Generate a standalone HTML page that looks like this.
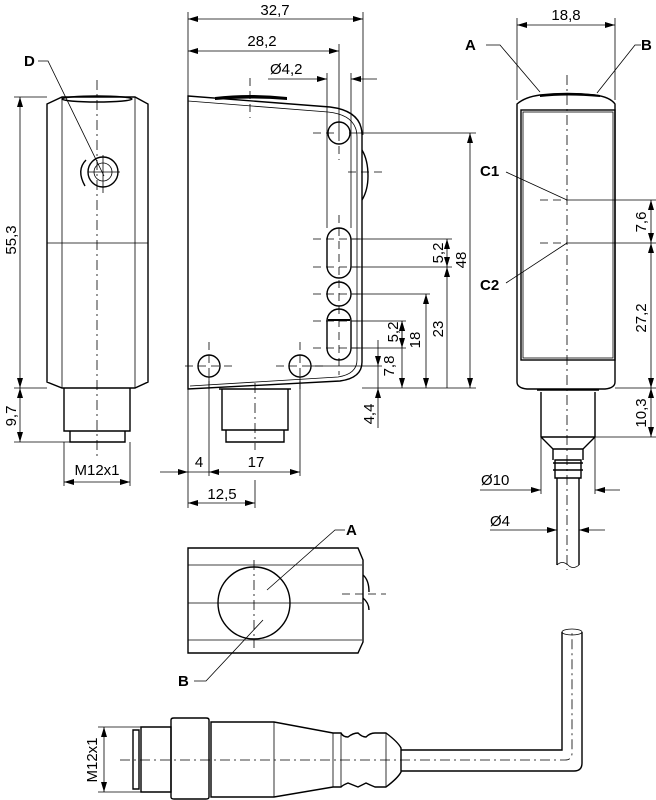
<!DOCTYPE html>
<html><head><meta charset="utf-8"><style>
html,body{margin:0;padding:0;background:#fff}
svg{display:block}
text{font-family:"Liberation Sans",sans-serif;font-size:15px;fill:#000}
.b{font-weight:bold}
.o{fill:none;stroke:#000;stroke-width:1.4}
.t{fill:none;stroke:#000;stroke-width:0.8}
.c{fill:none;stroke:#000;stroke-width:0.8;stroke-dasharray:10 4 2 4}
.d{fill:none;stroke:#000;stroke-width:0.8;stroke-dasharray:8 5}
</style></head><body>
<svg width="656" height="800" viewBox="0 0 656 800" xmlns="http://www.w3.org/2000/svg">
<defs>
<marker id="a" viewBox="0 0 10 6" refX="10" refY="3" markerWidth="10" markerHeight="6" orient="auto-start-reverse" markerUnits="userSpaceOnUse"><path d="M0,0 L10,3 L0,6z" fill="#000"/></marker>
</defs>

<!-- LEFT VIEW -->
<path class="o" d="M47,104 L62,97 L135,97 L148,104 L148,382 L135,388 L62,388 L47,382 Z"/>
<line class="t" x1="62" y1="97" x2="62" y2="388"/><line class="t" x1="135" y1="97" x2="135" y2="388"/>
<line class="t" x1="47" y1="243" x2="148" y2="243"/>
<ellipse class="o" cx="97" cy="99" rx="35" ry="3"/>
<path class="o" d="M64,388 V431 H130 V388 M70,431 V442 H125 V431"/>
<line class="c" x1="97" y1="80" x2="97" y2="460"/>
<circle class="o" cx="103" cy="172" r="15" stroke-width="2"/><circle class="t" cx="103" cy="172" r="9"/>
<line class="t" x1="103" y1="155" x2="103" y2="193"/><line class="t" x1="88" y1="172" x2="120" y2="172"/>
<path class="o" d="M86,160 Q76,170 85,186"/>
<text class="b" x="24" y="66">D</text>
<polyline class="t" points="38,61 48,61 104,176"/>
<line class="t" x1="14" y1="97" x2="47" y2="97"/><line class="t" x1="14" y1="388" x2="47" y2="388"/><line class="t" x1="14" y1="442" x2="70" y2="442"/>
<line class="t" x1="20" y1="97" x2="20" y2="388" marker-start="url(#a)" marker-end="url(#a)"/>
<line class="t" x1="20" y1="388" x2="20" y2="442" marker-start="url(#a)" marker-end="url(#a)"/>
<text transform="translate(16,240) rotate(-90)" text-anchor="middle">55,3</text>
<text transform="translate(16,416) rotate(-90)" text-anchor="middle">9,7</text>
<line class="t" x1="64" y1="442" x2="64" y2="486"/><line class="t" x1="130" y1="442" x2="130" y2="486"/>
<line class="t" x1="64" y1="482" x2="130" y2="482" marker-start="url(#a)" marker-end="url(#a)"/>
<text x="97" y="475" text-anchor="middle">M12x1</text>

<!-- MIDDLE VIEW -->
<path d="M215,97 Q250,93 287,97 L287,100 Q250,97 215,100Z" fill="#000"/>
<path class="o" d="M188,96 L330,107 Q362,111 362,135 L362,362 Q362,378 340,381 L188,389 Z"/>
<path class="t" d="M188,101 L328,112 Q357,115 357,137 L357,360 Q357,374 338,377 L190,386"/>
<path class="o" d="M362,150 Q368,160 368,176 Q368,190 362,200"/>
<rect class="o" x="327" y="228" width="24" height="50" rx="12"/>
<rect class="o" x="327" y="309" width="24" height="51" rx="12"/>
<line x1="328" y1="320" x2="350" y2="320" stroke="#000" stroke-width="2"/>
<circle class="o" cx="339" cy="133" r="11"/>
<circle class="o" cx="339" cy="294" r="12"/>
<circle class="o" cx="209" cy="366" r="11"/><circle class="o" cx="300" cy="366" r="11"/>
<g class="d">
<line x1="313" y1="133" x2="339" y2="133"/><line x1="339" y1="133" x2="339" y2="160"/>
<line x1="339" y1="215" x2="339" y2="375"/>
<line x1="313" y1="239" x2="365" y2="239"/><line x1="313" y1="267" x2="365" y2="267"/>
<line x1="313" y1="294" x2="365" y2="294"/><line x1="313" y1="321" x2="365" y2="321"/><line x1="313" y1="348" x2="365" y2="348"/>
<line x1="185" y1="366" x2="233" y2="366"/><line x1="276" y1="366" x2="324" y2="366"/>
<line x1="209" y1="342" x2="209" y2="392"/><line x1="300" y1="342" x2="300" y2="392"/>
<line x1="348" y1="172" x2="385" y2="172"/>
<line x1="250" y1="78" x2="250" y2="118"/>
</g>
<path class="o" d="M219,389 H291 M222,389 V430 H288 V389 M226,430 V442 H284 V430"/>
<line class="c" x1="255" y1="383" x2="255" y2="450"/>
<line class="t" x1="188" y1="12" x2="188" y2="96"/><line class="t" x1="363" y1="12" x2="363" y2="135"/>
<line class="t" x1="339" y1="44" x2="339" y2="133"/>
<line class="t" x1="188" y1="19" x2="363" y2="19" marker-start="url(#a)" marker-end="url(#a)"/>
<text x="275" y="15" text-anchor="middle">32,7</text>
<line class="t" x1="188" y1="51" x2="339" y2="51" marker-start="url(#a)" marker-end="url(#a)"/>
<text x="262" y="46" text-anchor="middle">28,2</text>
<line class="t" x1="327" y1="73" x2="327" y2="228"/><line class="t" x1="351" y1="73" x2="351" y2="228"/>
<line class="t" x1="268" y1="79" x2="327" y2="79" marker-end="url(#a)"/>
<line class="t" x1="377" y1="79" x2="351" y2="79" marker-end="url(#a)"/>
<text x="270" y="74">Ø4,2</text>
<line class="t" x1="349" y1="133" x2="476" y2="133"/>
<line class="t" x1="351" y1="239" x2="452" y2="239"/><line class="t" x1="351" y1="267" x2="452" y2="267"/>
<line class="t" x1="351" y1="294" x2="430" y2="294"/><line class="t" x1="351" y1="321" x2="406" y2="321"/><line class="t" x1="351" y1="348" x2="406" y2="348"/>
<line class="t" x1="311" y1="366" x2="382" y2="366"/>
<line class="t" x1="362" y1="388" x2="476" y2="388"/>
<line class="t" x1="470" y1="133" x2="470" y2="388" marker-start="url(#a)" marker-end="url(#a)"/>
<text transform="translate(466,260) rotate(-90)" text-anchor="middle">48</text>
<line class="t" x1="447" y1="239" x2="447" y2="267" marker-start="url(#a)" marker-end="url(#a)"/>
<text transform="translate(443,253) rotate(-90)" text-anchor="middle">5,2</text>
<line class="t" x1="447" y1="267" x2="447" y2="388" marker-start="url(#a)"/>
<line class="t" x1="426" y1="294" x2="426" y2="388" marker-start="url(#a)" marker-end="url(#a)"/>
<text transform="translate(443,329) rotate(-90)" text-anchor="middle">23</text>
<line class="t" x1="402" y1="321" x2="402" y2="388" marker-start="url(#a)" marker-end="url(#a)"/>
<text transform="translate(420,340) rotate(-90)" text-anchor="middle">18</text>
<line class="t" x1="402" y1="321" x2="402" y2="348" marker-start="url(#a)" marker-end="url(#a)"/>
<text transform="translate(398,332) rotate(-90)" text-anchor="middle">5,2</text>
<line class="t" x1="378" y1="340" x2="378" y2="366" marker-end="url(#a)"/>
<line class="t" x1="378" y1="366" x2="378" y2="388"/>
<line class="t" x1="378" y1="428" x2="378" y2="388" marker-end="url(#a)"/>
<text transform="translate(394,366) rotate(-90)" text-anchor="middle">7,8</text>
<text transform="translate(374,414) rotate(-90)" text-anchor="middle">4,4</text>
<line class="t" x1="188" y1="389" x2="188" y2="508"/><line class="t" x1="209" y1="377" x2="209" y2="476"/>
<line class="t" x1="300" y1="377" x2="300" y2="476"/><line class="t" x1="255" y1="480" x2="255" y2="508"/>
<line class="t" x1="160" y1="472" x2="188" y2="472" marker-end="url(#a)"/>
<line class="t" x1="209" y1="472" x2="300" y2="472" marker-start="url(#a)" marker-end="url(#a)"/>
<line class="t" x1="188" y1="472" x2="209" y2="472"/>
<text x="199" y="467" text-anchor="middle">4</text>
<text x="256" y="467" text-anchor="middle">17</text>
<line class="t" x1="188" y1="503" x2="255" y2="503" marker-start="url(#a)" marker-end="url(#a)"/>
<text x="222" y="499" text-anchor="middle">12,5</text>

<!-- RIGHT VIEW -->
<path class="o" d="M517,104 Q525,97 540,95 Q567,92 595,95 Q610,97 615,104 L615,382 Q615,388 605,389 L527,389 Q517,388 517,382 Z"/>
<path d="M540,95 Q567,91 600,95 L600,97 Q567,94 540,97Z" fill="#000"/>
<rect class="o" x="521" y="110" width="94" height="250"/>
<rect class="t" x="523" y="112" width="90" height="246"/>
<path class="o" d="M541,392 V437 L553,449 V460 M595,392 V437 L583,449 V460 M541,437 H595 M537,390 H599 M553,449 H583"/>
<path class="o" d="M555,460 H581 V478 H555 Z M553,463 H583 M553,470 H583"/>
<path class="o" d="M557,478 V565 M579,478 V565"/>
<path class="t" d="M557,565 Q562,560 568,565 Q573,570 579,565"/>
<line class="c" x1="567" y1="75" x2="567" y2="570"/>
<line class="d" x1="540" y1="200" x2="567" y2="200"/><line class="d" x1="540" y1="243" x2="567" y2="243"/>
<line class="t" x1="567" y1="200" x2="656" y2="200"/><line class="t" x1="567" y1="243" x2="656" y2="243"/>
<line class="t" x1="615" y1="388" x2="656" y2="388"/><line class="t" x1="583" y1="437" x2="656" y2="437"/>
<line class="t" x1="651" y1="200" x2="651" y2="243" marker-start="url(#a)" marker-end="url(#a)"/>
<line class="t" x1="651" y1="243" x2="651" y2="388" marker-start="url(#a)" marker-end="url(#a)"/>
<line class="t" x1="651" y1="388" x2="651" y2="437" marker-start="url(#a)" marker-end="url(#a)"/>
<text transform="translate(646,222) rotate(-90)" text-anchor="middle">7,6</text>
<text transform="translate(646,318) rotate(-90)" text-anchor="middle">27,2</text>
<text transform="translate(646,413) rotate(-90)" text-anchor="middle">10,3</text>
<line class="t" x1="517" y1="18" x2="517" y2="100"/><line class="t" x1="615" y1="18" x2="615" y2="100"/>
<line class="t" x1="517" y1="25" x2="615" y2="25" marker-start="url(#a)" marker-end="url(#a)"/>
<text x="566" y="20" text-anchor="middle">18,8</text>
<text class="b" x="465" y="50">A</text><polyline class="t" points="486,45 500,45 540,92"/>
<text class="b" x="641" y="50">B</text><polyline class="t" points="641,45 635,45 597,93"/>
<text class="b" x="480" y="176">C1</text><line class="t" x1="506" y1="172" x2="567" y2="200"/>
<text class="b" x="480" y="290">C2</text><line class="t" x1="506" y1="283" x2="567" y2="243"/>
<line class="t" x1="541" y1="437" x2="541" y2="494"/><line class="t" x1="595" y1="437" x2="595" y2="494"/>
<line class="t" x1="480" y1="490" x2="541" y2="490" marker-end="url(#a)"/>
<line class="t" x1="620" y1="490" x2="595" y2="490" marker-end="url(#a)"/>
<text x="481" y="485">Ø10</text>
<line class="t" x1="490" y1="530" x2="557" y2="530" marker-end="url(#a)"/>
<line class="t" x1="605" y1="530" x2="579" y2="530" marker-end="url(#a)"/>
<text x="490" y="526">Ø4</text>

<!-- TOP VIEW -->
<path class="o" d="M188,548 H358 L363,560 V642 L358,653 H188 Z"/>
<line class="t" x1="188" y1="565" x2="362" y2="565"/><line class="t" x1="188" y1="603" x2="362" y2="603"/><line class="t" x1="188" y1="640" x2="362" y2="640"/>
<path class="o" d="M363,575 Q369,580 369,592 M363,598 Q369,603 369,610"/>
<circle class="o" cx="254" cy="603" r="36" stroke-width="2"/>
<line class="c" x1="254" y1="560" x2="254" y2="648"/>
<line class="d" x1="342" y1="594" x2="386" y2="594"/>
<text class="b" x="346" y="535">A</text><polyline class="t" points="345,530 335,530 267,590"/>
<text class="b" x="178" y="686">B</text><polyline class="t" points="194,681 206,681 263,620"/>

<!-- BOTTOM CONNECTOR -->
<path class="o" d="M133,730 H139 V789 H133 Z"/>
<path class="o" d="M141,727 H171 V792 H141 Z"/>
<path class="o" d="M171,720 Q171,718 174,718 H206 Q209,718 209,720 V797 Q209,799 206,799 H174 Q171,799 171,797 Z"/>
<path class="o" d="M211,722 H274 L333,733 H341 Q343,737 348,737 Q353,733 358,733 Q362,737 366,737 Q370,733 375,733 H386 Q398,742 401,748 V772 Q398,778 386,787 H375 Q370,785 366,783 Q362,785 358,787 Q353,785 348,783 Q343,785 341,787 H333 L274,797 H211 Z"/>
<line class="t" x1="274" y1="722" x2="274" y2="797"/><line class="t" x1="333" y1="733" x2="333" y2="787"/>
<line class="t" x1="341" y1="733" x2="341" y2="787"/><line class="t" x1="386" y1="733" x2="386" y2="787"/>
<path class="o" d="M401,750 H562 V632 M401,771 H574 Q582,771 582,763 V632"/>
<ellipse class="t" cx="572" cy="632" rx="10" ry="3"/>
<path class="c" d="M120,760 H565 Q572,760 572,753 V632"/>
<line class="t" x1="98" y1="727" x2="141" y2="727"/><line class="t" x1="98" y1="792" x2="141" y2="792"/>
<line class="t" x1="104" y1="727" x2="104" y2="792" marker-start="url(#a)" marker-end="url(#a)"/>
<text transform="translate(97,760) rotate(-90)" text-anchor="middle">M12x1</text>
</svg>
</body></html>
